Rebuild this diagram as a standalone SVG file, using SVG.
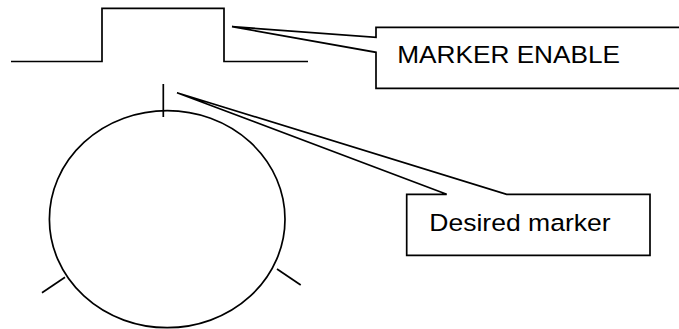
<svg xmlns="http://www.w3.org/2000/svg" width="679" height="329" viewBox="0 0 679 329">
<style>
.ln{fill:none;stroke:#000;stroke-width:1.7;}
.co{fill:#fff;stroke:#000;stroke-width:1.7;stroke-linejoin:miter;}
.t{font-family:"Liberation Sans",Arial,sans-serif;font-size:24.5px;fill:#000;}
</style>
<rect width="679" height="329" fill="#fff"/>
<g id="pulse">
<polyline class="ln" points="11,61.5 102,61.5 102,8.3 224,8.3 224,61.5 308,61.5"/>
</g>
<g id="dial">
<ellipse class="ln" cx="167.2" cy="219.2" rx="117.8" ry="108.5"/>
<line class="ln" x1="163.3" y1="84" x2="163.3" y2="117"/>
<line class="ln" x1="42" y1="292.7" x2="65" y2="277.3"/>
<line class="ln" x1="277" y1="269" x2="300.7" y2="285"/>
</g>
<g id="marker-enable">
<path class="co" d="M376,27.3 H690 V88.3 H376 V52.3 L232,26.7 L376,37.3 Z"/>
<text class="t" x="397.3" y="62.7" textLength="222.7" lengthAdjust="spacingAndGlyphs">MARKER ENABLE</text>
</g>
<g id="desired-marker">
<path class="co" d="M406.7,194.3 H446.7 L177,92.7 L506.7,194.3 H650 V255.3 H406.7 Z"/>
<text class="t" x="429.3" y="231" textLength="181.3" lengthAdjust="spacingAndGlyphs">Desired marker</text>
</g>
<g id="connectors"></g>
</svg>
